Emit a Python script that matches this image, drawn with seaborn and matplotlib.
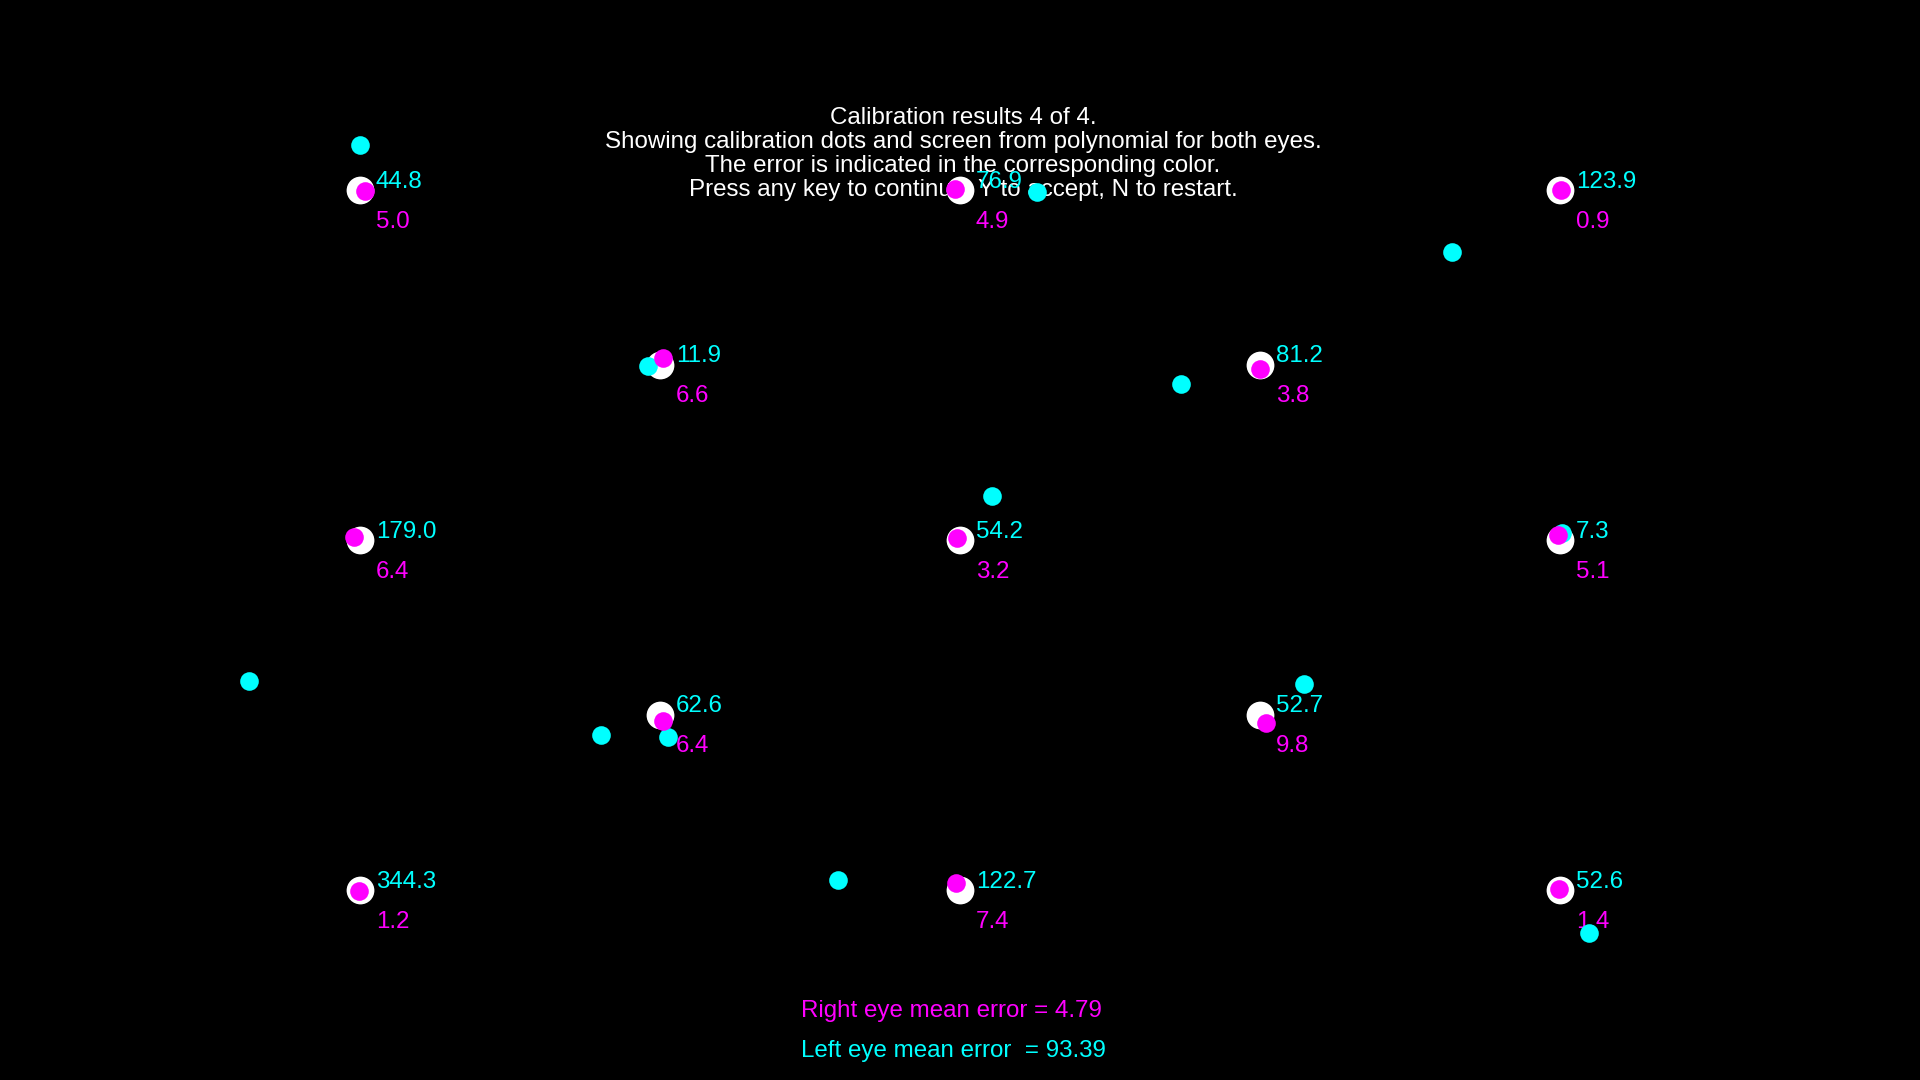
import matplotlib
matplotlib.use("Agg")
import matplotlib.pyplot as plt
import seaborn as sns
import pandas as pd

# calibration targets (screen pixels)
target_x = [360, 960, 1560, 660, 1260, 360, 960, 1560, 660, 1260, 360, 960, 1560]
target_y = [190, 190, 190, 365, 365, 540, 540, 540, 715, 715, 890, 890, 890]

# left eye estimates (cyan) and errors
left_x = [360, 1037, 1452, 648, 1181, 249, 992, 1562, 601, 1304, 668, 838, 1589]
left_y = [145, 192, 252, 366, 384, 681, 496, 533, 735, 684, 737, 880, 933]
left_err = [44.8, 76.9, 123.9, 11.9, 81.2, 179.0, 54.2, 7.3, 62.6, 52.7, 344.3, 122.7, 52.6]

# right eye estimates (magenta) and errors
right_x = [365, 955, 1561, 663, 1260, 354, 957, 1558, 663, 1266, 359, 956, 1559]
right_y = [191, 189, 190, 358, 369, 537, 538, 535, 721, 723, 891, 883, 889]
right_err = [5.0, 4.9, 0.9, 6.6, 3.8, 6.4, 3.2, 5.1, 6.4, 9.8, 1.2, 7.4, 1.4]

title_lines = [
    "Calibration results 4 of 4.",
    "Showing calibration dots and screen from polynomial for both eyes.",
    "The error is indicated in the corresponding color.",
    "Press any key to continue, Y to accept, N to restart.",
]

df = pd.DataFrame({
    "tx": target_x, "ty": target_y,
    "lx": left_x, "ly": left_y, "lerr": left_err,
    "rx": right_x, "ry": right_y, "rerr": right_err,
})

sns.set_style("dark")
plt.rcParams["font.family"] = ["Liberation Sans", "DejaVu Sans"]
FS = 17.4

fig = plt.figure(figsize=(19.2, 10.8), dpi=100, facecolor="black")
ax = fig.add_axes([0, 0, 1, 1])
ax.set_facecolor("black")
ax.set_xlim(0, 1920)
ax.set_ylim(1080, 0)
ax.axis("off")

# instructions
for i, line in enumerate(title_lines):
    ax.text(963, 117.5 + i * 24.3, line, color="white", fontsize=FS,
            ha="center", va="center", zorder=1)

# error labels
for _, r in df.iterrows():
    ax.text(r["tx"] + 16, r["ty"] - 8.5, f"{r['lerr']:.1f}", color="cyan", fontsize=FS,
            ha="left", va="center", zorder=2)
    ax.text(r["tx"] + 16, r["ty"] + 31.5, f"{r['rerr']:.1f}", color="magenta", fontsize=FS,
            ha="left", va="center", zorder=2)

sns.scatterplot(data=df, x="tx", y="ty", color="white", s=400, linewidth=0,
                ax=ax, zorder=3, legend=False)
sns.scatterplot(data=df, x="lx", y="ly", color="cyan", s=180, linewidth=0,
                ax=ax, zorder=4, legend=False)
sns.scatterplot(data=df, x="rx", y="ry", color="magenta", s=180, linewidth=0,
                ax=ax, zorder=5, legend=False)

left_mean = sum(left_err) / len(left_err)
ax.text(801, 1011.5, "Right eye mean error = 4.79", color="magenta", fontsize=FS,
        ha="left", va="center")
ax.text(801, 1051.5, f"Left eye mean error  = {left_mean:.2f}", color="cyan", fontsize=FS,
        ha="left", va="center")

fig.savefig("out.png", dpi=100, facecolor="black")
